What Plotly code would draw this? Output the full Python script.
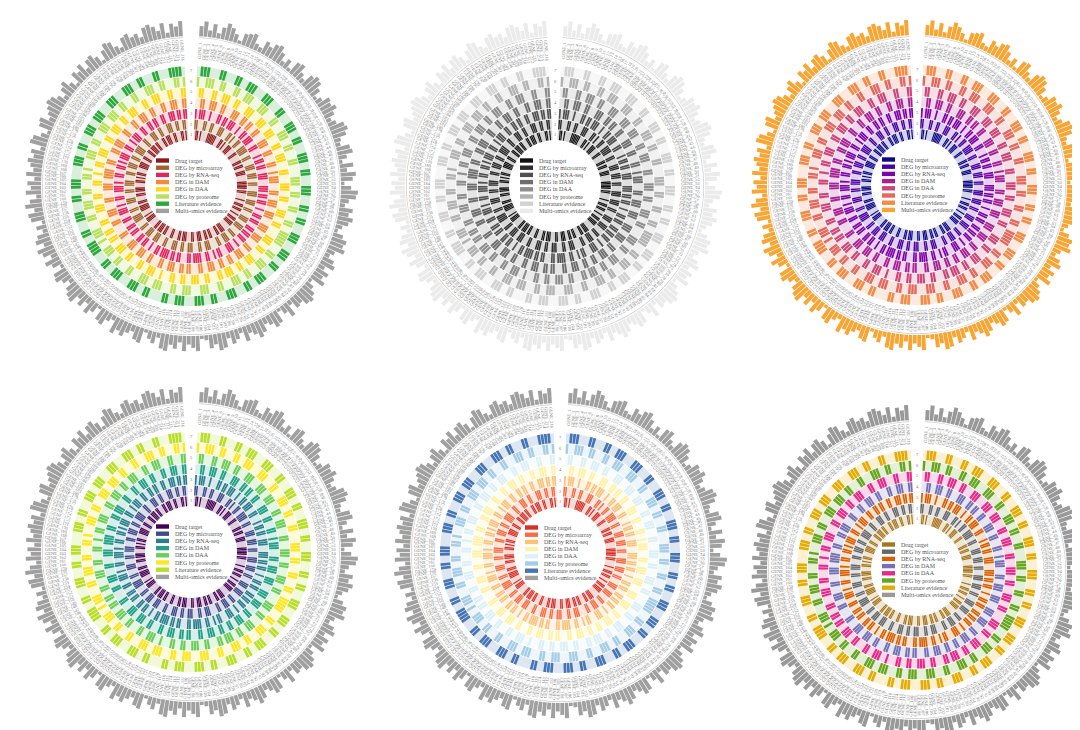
import math
import plotly.graph_objects as go

# ---- data -------------------------------------------------------------
TRACKS = ["Drug target", "DEG by microarray", "DEG by RNA-seq", "DEG in DAM",
          "DEG in DAA", "DEG by proteome", "Literature evidence", "Multi-omics evidence"]

drug_target = """01101000 01111110 00110100 11100011 00001101 10011100 00111110 11000010 01101100
10011011 10000111 01100011 01100111 00110001 11011000 11000110 11101100 00111010
00111101 10001101 11000110 10110001 11100110 00110111 01100011 01110011 00011010"""
deg_microarray = """11000110 01100011 10001101 00110011 11001100 01110011 10011000 11100111 00110001
11001110 00110011 10011000 01110011 00011100 11001110 00110001 11001110 01100011
11001100 01110001 10011100 01100111 00110011 11000110 00111001 10001110 01100110"""
deg_rnaseq = """10111001 00011011 01110010 01101110 01100010 11011001 11000111 01101100 10011011
00110110 11001001 11000110 10011001 11101100 01101101 11101100 10011011 00110110
01100111 01001100 11101001 10011010 11100110 01011100 11001101 10011001 11011011"""
deg_dam = """00110011 10011000 11100110 11001100 01110011 00011001 01110001 10011100 11100011
10011100 01100111 00110011 00111001 10001101 10011100 11000110 01110011 10001100
00110011 10001100 01110011 11001100 01101110 00110001 10011100 11000110 01110011"""
deg_daa = """01100011 00111001 10001110 00111001 11000110 01110001 10001110 01100011 10011000
01110011 00011100 11001110 11000110 01110011 00110001 00111001 10001100 11100110
11001100 01110011 00011001 00110011 10001100 11100110 01110001 10011100 01100011"""
deg_proteome = """10011100 11000110 01110001 11000110 00111001 10001100 00111001 10001100 01100111
11000110 01110001 10011100 01100011 10001110 01100011 10011100 01100011 00111001
01110001 10011100 11000110 10001110 01100011 10011100 11000110 00111001 10001101"""
literature = """01110001 10001100 11100011 10001100 01110011 00011100 11000111 00011001 10001110
00111001 10001110 01100011 10001100 11100011 10011000 01100111 00011100 11000111
10011000 11100011 00111000 01110011 00011100 11100011 10001110 01100011 00011110"""

multi_omics = [6, 9, 4, 8, 3, 7, 10, 8, 5, 2, 7, 8, 9, 4, 3, 8, 6, 9, 10, 7, 3, 6, 2, 8,
               9, 5, 3, 8, 10, 9, 6, 2, 4, 8, 7, 9, 6, 3, 5, 9, 10, 8, 4, 3, 8, 9, 5, 2,
               8, 4, 9, 7, 2, 6, 10, 9, 5, 3, 8, 6, 9, 7, 4, 2, 6, 9, 8, 10, 5, 3, 7, 9,
               4, 8, 6, 9, 2, 5, 8, 10, 9, 6, 7, 3, 9, 5, 2, 8, 9, 6, 4, 8, 10, 7, 5, 9,
               3, 6, 8, 4, 9, 10, 6, 8, 3, 2, 9, 7, 5, 9, 4, 8, 6, 10, 9, 3, 7, 5, 2, 9,
               8, 4, 6, 9, 7, 10, 3, 5, 9, 8, 2, 6, 9, 4, 8, 5, 10, 9, 7, 3, 6, 9, 8, 2,
               6, 9, 4, 8, 10, 5, 9, 7, 3, 6, 2, 8, 9, 5, 10, 7, 3, 9, 6, 8, 4, 9, 5, 7,
               9, 6, 8, 3, 10, 9, 5, 2, 8, 9, 4, 6, 8, 10, 9, 6, 3, 7, 9, 5, 2, 8, 6, 9,
               4, 8, 9, 6, 2, 7, 10, 9, 5, 3, 8, 9, 6, 7, 4, 9, 10, 8, 5, 9, 3, 8, 6, 9]

rings = [drug_target, deg_microarray, deg_rnaseq, deg_dam, deg_daa, deg_proteome, literature]
rings = [[int(c) for c in s if c in "01"] for s in rings]
N = len(multi_omics)
genes = [f"GENE_{i}" for i in range(1, N + 1)]

palettes = [
    ["#8B1A1A", "#A0622D", "#E0245E", "#F28A3A", "#FFD71A", "#B8E05A", "#2CA83C", "#A0A0A0"],
    ["#111111", "#2B2B2B", "#505050", "#6E6E6E", "#8E8E8E", "#B2B2B2", "#D2D2D2", "#EBEBEB"],
    ["#0D0887", "#4C02A1", "#7E03A8", "#A82296", "#CB4679", "#E4685E", "#F48B47", "#F9A533"],
    ["#440154", "#3E4A89", "#2A7F8E", "#22A187", "#6CCD5A", "#FDE725", "#B9DE28", "#A0A0A0"],
    ["#D73027", "#F46D43", "#FDC27A", "#FFF2A8", "#DDF0F6", "#A6CDE6", "#4575B4", "#A0A0A0"],
    ["#A6761D", "#666666", "#D95F02", "#7570B3", "#E7298A", "#66A61E", "#E6AB02", "#999999"],
]

# panel centres (px from top-left of 1080x730)
centres = [(183, 178), (547, 178), (909, 177), (183, 544), (552, 545), (909, 562)]
RMAX = 168

# ---- geometry ---------------------------------------------------------
GAP = 6
STEP = (360 - GAP) / N
thetas = [GAP / 2 + (i + 0.5) * STEP for i in range(N)]
RING0, RING_W, RING_PAD = 46, 9.8, 0.9
LABEL_R = 135.5
BAR_BASE = 150


def tint(hex_color, a=0.2):
    h = hex_color.lstrip("#")
    r, g, b = (int(h[i:i + 2], 16) for i in (0, 2, 4))
    mix = lambda c: round(c * a + 255 * (1 - a))
    return f"rgb({mix(r)},{mix(g)},{mix(b)})"


fig = go.Figure()
annotations, shapes = [], []
W, H = 1080, 730

for p, (pal, (cx, cy)) in enumerate(zip(palettes, centres)):
    sfx = "" if p == 0 else str(p + 1)
    polar = "polar" + sfx
    dom_x = [(cx - RMAX) / W, (cx + RMAX) / W]
    dom_y = [max(0, (H - cy - RMAX) / H), min(1, (H - cy + RMAX) / H)]

    for k, ring in enumerate(rings):
        base = RING0 + k * (RING_W + RING_PAD)
        # ring background
        fig.add_trace(go.Barpolar(
            subplot=polar, theta=[180], r=[RING_W], base=[base], width=[360 - GAP],
            marker=dict(color=tint(pal[k], 0.18), line=dict(width=0)),
            hoverinfo="skip", showlegend=False))
        sel = [i for i in range(N) if ring[i]]
        fig.add_trace(go.Barpolar(
            subplot=polar, theta=[thetas[i] for i in sel], r=[RING_W] * len(sel),
            base=[base] * len(sel), width=[STEP * 0.8] * len(sel),
            marker=dict(color=pal[k], line=dict(width=0)),
            name=TRACKS[k], hovertext=[genes[i] for i in sel], showlegend=False))

    # ring numbers in the gap
    fig.add_trace(go.Scatterpolar(
        subplot=polar, theta=[0] * 7,
        r=[RING0 + k * (RING_W + RING_PAD) + RING_W / 2 for k in range(7)],
        mode="text", text=[str(k + 1) for k in range(7)],
        textfont=dict(size=4.5, color="#777", family="Liberation Serif"),
        hoverinfo="skip", showlegend=False))

    # thin circle before outer bars
    fig.add_trace(go.Barpolar(
        subplot=polar, theta=[180], r=[0.7], base=[148.3], width=[360 - GAP],
        marker=dict(color="#CCCCCC", line=dict(width=0)), hoverinfo="skip", showlegend=False))

    # multi-omics evidence bars
    fig.add_trace(go.Barpolar(
        subplot=polar, theta=thetas, r=[v * 1.7 for v in multi_omics], base=[BAR_BASE] * N,
        width=[STEP * 0.86] * N, marker=dict(color=pal[7], line=dict(width=0)),
        name=TRACKS[7], hovertext=genes, showlegend=False))

    fig.update_layout(**{
        polar: dict(
            domain=dict(x=dom_x, y=dom_y), bgcolor="rgba(0,0,0,0)",
            radialaxis=dict(visible=False, range=[0, RMAX], showgrid=False),
            angularaxis=dict(visible=False, rotation=90, direction="clockwise",
                             showgrid=False)),
        "xaxis" + sfx: dict(domain=dom_x, range=[-RMAX, RMAX], visible=False,
                            fixedrange=True, anchor="y" + sfx),
        "yaxis" + sfx: dict(domain=dom_y, range=[-RMAX, RMAX], visible=False,
                            fixedrange=True, anchor="x" + sfx),
    })

    # gene labels, radial
    for g, th in zip(genes, thetas):
        rad = math.radians(th)
        ang = th - 90 if th <= 180 else th - 270
        annotations.append(dict(
            x=LABEL_R * math.sin(rad), y=LABEL_R * math.cos(rad), xref="x" + sfx, yref="y" + sfx,
            text=g, textangle=ang, showarrow=False, xanchor="center", yanchor="middle",
            font=dict(size=4.5, color="#808080", family="Liberation Serif")))

    # legend in the hole
    for i, name in enumerate(TRACKS):
        yy = 25.5 - i * 7.2
        shapes.append(dict(type="rect", xref="x" + sfx, yref="y" + sfx, layer="above",
                           x0=-35, x1=-22, y0=yy - 2.2, y1=yy + 2.2,
                           fillcolor=pal[i], line=dict(width=0)))
        annotations.append(dict(x=-18.5, y=yy, xref="x" + sfx, yref="y" + sfx, text=name,
                                showarrow=False, xanchor="left", yanchor="middle",
                                font=dict(size=6, color="#555", family="Liberation Serif")))

fig.update_layout(
    width=W, height=H, margin=dict(l=0, r=0, t=0, b=0),
    paper_bgcolor="white", plot_bgcolor="rgba(0,0,0,0)",
    showlegend=False, annotations=annotations, shapes=shapes,
)
fig.write_html("out.html")
